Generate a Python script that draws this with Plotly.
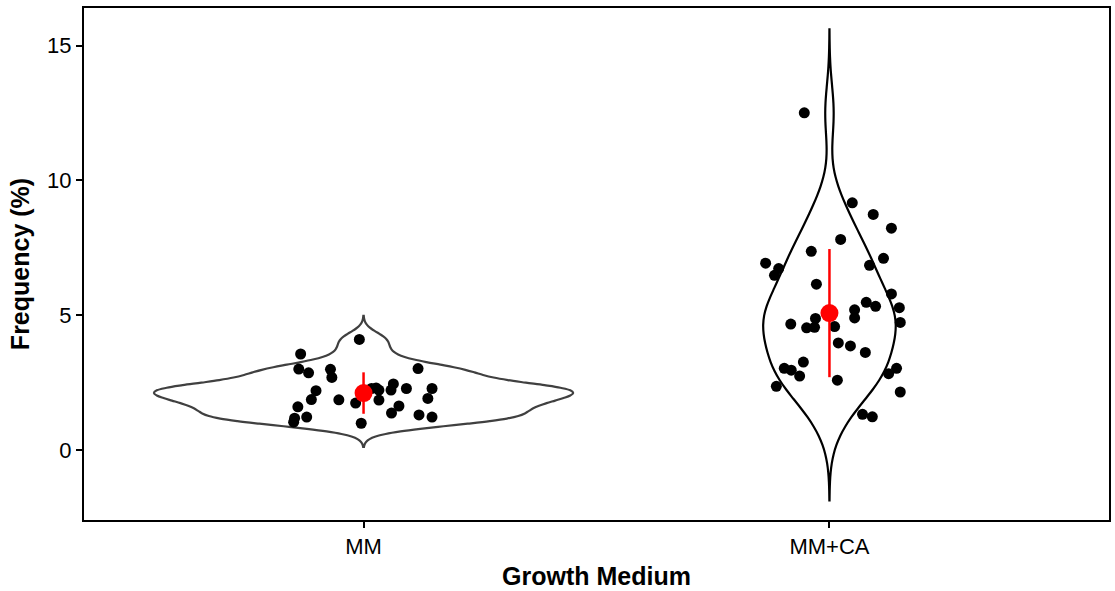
import numpy as np
import plotly.graph_objects as go

# Category labels on the x axis
groups = ["MM", "MM+CA"]

# Frequency (%) measurements per growth medium
mm_freq = [4.10, 3.56, 3.00, 2.86, 2.99, 2.69, 3.02, 2.20, 1.87, 1.86,
           1.74, 1.60, 1.22, 1.18, 1.03, 0.99, 2.30, 2.22, 1.85, 2.22,
           2.45, 2.28, 1.37, 1.63, 1.30, 2.28, 1.91, 1.22, 2.28]
mmca_freq = [12.51, 9.17, 8.74, 8.23, 7.81, 7.37, 6.93, 6.73, 6.48, 7.11,
             6.85, 6.15, 5.79, 5.28, 5.48, 5.33, 5.20, 4.90, 4.73, 4.88,
             4.67, 4.53, 4.55, 4.58, 3.97, 3.86, 3.62, 3.26, 3.03, 2.96,
             2.74, 2.59, 2.36, 3.03, 2.83, 2.15, 1.32, 1.23]

# Horizontal jitter offsets of the individual points (category units)
mm_jitter = [-0.009, -0.135, -0.139, -0.118, -0.071, -0.068, 0.117, -0.102, -0.112, -0.053,
             -0.017, -0.141, -0.122, -0.148, -0.150, -0.005, 0.027, 0.033, 0.033, 0.059,
             0.064, 0.092, 0.060, 0.076, 0.119, 0.147, 0.138, 0.147, 0.017]
mmca_jitter = [-0.054, 0.049, 0.094, 0.133, 0.024, -0.039, -0.137, -0.109, -0.118, 0.116,
               0.086, -0.028, 0.133, 0.150, 0.079, 0.099, 0.054, 0.054, 0.152, -0.030,
               -0.083, -0.049, -0.032, 0.011, 0.019, 0.045, 0.077, -0.056, -0.097, -0.082,
               -0.064, 0.017, -0.114, 0.144, 0.127, 0.152, 0.071, 0.092]

values = [mm_freq, mmca_freq]
jitters = [mm_jitter, mmca_jitter]
violin_line_colors = ["#404040", "#000000"]

FONT = "Liberation Sans, Arial, Helvetica, sans-serif"


def bw_nrd0(v):
    v = np.asarray(v, dtype=float)
    q1, q3 = np.percentile(v, [25, 75])
    lo = min(np.std(v, ddof=1), (q3 - q1) / 1.34)
    return 0.9 * lo * len(v) ** (-0.2)


fig = go.Figure()

# Untrimmed density outlines; a shared scale group keeps widths proportional to density
for i, (name, vals) in enumerate(zip(groups, values)):
    bw = bw_nrd0(vals)
    fig.add_trace(go.Violin(
        y=vals, x0=i, name=name,
        bandwidth=bw, spanmode="manual",
        span=[min(vals) - 3 * bw, max(vals) + 3 * bw],
        scalegroup="all", scalemode="width",
        line=dict(color=violin_line_colors[i], width=2.2),
        fillcolor="rgba(0,0,0,0)",
        points=False, box_visible=False, meanline_visible=False,
        showlegend=False, hoverinfo="skip",
    ))

# Jittered raw observations
for i, (vals, jit) in enumerate(zip(values, jitters)):
    fig.add_trace(go.Scatter(
        x=[i + j for j in jit], y=vals, mode="markers",
        marker=dict(color="black", size=11),
        showlegend=False,
    ))

# Mean ± SD
means = [float(np.mean(v)) for v in values]
sds = [float(np.std(v, ddof=1)) for v in values]
fig.add_trace(go.Scatter(
    x=list(range(len(groups))), y=means, mode="markers",
    marker=dict(color="red", size=18),
    error_y=dict(type="data", array=sds, visible=True,
                 color="red", thickness=2.5, width=0),
    showlegend=False,
))

axis_common = dict(
    showline=True, linecolor="black", linewidth=2, mirror=True,
    ticks="outside", ticklen=6, tickwidth=1.5, tickcolor="black",
    showgrid=False, zeroline=False,
    tickfont=dict(family=FONT, size=22, color="black"),
)

fig.update_layout(
    width=1115, height=591,
    margin=dict(l=84, r=4, t=8, b=71),
    paper_bgcolor="white", plot_bgcolor="white",
    violinmode="overlay", violingap=0.1, violingroupgap=0,
    xaxis=dict(
        range=[-0.6, 1.6], tickmode="array",
        tickvals=list(range(len(groups))), ticktext=groups,
        title=dict(text="<b>Growth Medium</b>",
                   font=dict(family=FONT, size=25, color="black"), standoff=9),
        **axis_common,
    ),
    yaxis=dict(
        range=[-2.6, 16.4], tickmode="array", tickvals=[0, 5, 10, 15],
        title=dict(text="<b>Frequency (%)</b>",
                   font=dict(family=FONT, size=25, color="black"), standoff=10),
        **axis_common,
    ),
)

fig.write_html("out.html")
